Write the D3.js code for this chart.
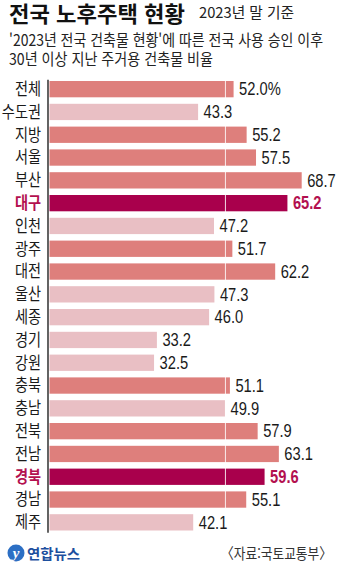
<!DOCTYPE html>
<html lang="ko">
<head>
<meta charset="utf-8">
<script src="https://cdn.jsdelivr.net/npm/d3@7/dist/d3.min.js"></script>
<style>
  html, body { margin: 0; padding: 0; background: #fff; }
  svg { display: block; }
  text { font-family: "Noto Sans CJK KR", "Noto Sans", sans-serif; }
  .num { font-family: "Liberation Sans", Arial, sans-serif; }
</style>
</head>
<body>
<svg id="chart" width="340" height="564"></svg>
<script>
// 지역별 30년 이상 노후 주거용 건축물 비율 (%)
const regions = ['전체','수도권','지방','서울','부산','대구','인천','광주','대전','울산',
                 '세종','경기','강원','충북','충남','전북','전남','경북','경남','제주'];
const ratios  = [52.0, 43.3, 55.2, 57.5, 68.7, 65.2, 47.2, 51.7, 62.2, 47.3,
                 46.0, 33.2, 32.5, 51.1, 49.9, 57.9, 63.1, 59.6, 55.1, 42.1];
const highlighted = ['대구', '경북'];
const guideValue = 50;

const colHigh = '#a9004c', colTextHigh = '#b3104f';
const colOver = '#de7f7c', colUnder = '#e9bfc4';

const svg = d3.select('#chart');

// condense a text horizontally to a ratio of its natural width (or to a fixed width)
function squeeze(sel, k, fixed) {
  sel.each(function () {
    const w = fixed != null ? fixed : this.getComputedTextLength() * k;
    d3.select(this).attr('textLength', w).attr('lengthAdjust', 'spacingAndGlyphs');
  });
}

// ---- headings ----
svg.append('text').attr('x', 9).attr('y', 22)
  .attr('font-size', 22).attr('font-weight', 700).attr('fill', '#111')
  .text('전국 노후주택 현황').call(squeeze, null, 176);
svg.append('text').attr('x', 199).attr('y', 17.5)
  .attr('font-size', 15).attr('fill', '#222')
  .text('2023년 말 기준').call(squeeze, null, 95);
svg.append('text').attr('x', 9).attr('y', 45.5)
  .attr('font-size', 15.5).attr('fill', '#222')
  .text("'2023년 전국 건축물 현황'에 따른 전국 사용 승인 이후").call(squeeze, null, 314);
svg.append('text').attr('x', 9).attr('y', 64.5)
  .attr('font-size', 15.5).attr('fill', '#222')
  .text('30년 이상 지난 주거용 건축물 비율').call(squeeze, null, 204);

// ---- scales ----
const step = 22.8;
const y = d3.scaleBand()
  .domain(regions)
  .range([77.75, 77.75 + step * regions.length])
  .paddingInner(0.285)
  .paddingOuter(0.1425);

const axisX = 48;
const x = d3.scaleLinear().domain([6.5, 70]).range([axisX, 307]);

const data = regions.map((r, i) => ({ region: r, value: ratios[i], hi: highlighted.includes(r) }));
const barColor = d => d.hi ? colHigh : (d.value >= guideValue ? colOver : colUnder);

// ---- bars ----
svg.append('g').selectAll('rect').data(data).join('rect')
  .attr('x', axisX + 1.5)
  .attr('y', d => y(d.region))
  .attr('width', d => x(d.value) - axisX - 1.5)
  .attr('height', y.bandwidth())
  .attr('fill', barColor);

// guide line at 50%
svg.append('line')
  .attr('x1', x(guideValue)).attr('x2', x(guideValue))
  .attr('y1', y.range()[0] + 2).attr('y2', y.range()[1] - 1)
  .attr('stroke', '#fff').attr('stroke-width', 1).attr('stroke-opacity', 0.85);

// vertical axis
svg.append('line')
  .attr('x1', axisX).attr('x2', axisX)
  .attr('y1', y.range()[0] + 2).attr('y2', y.range()[1] - 1)
  .attr('stroke', '#222').attr('stroke-width', 1.4);

// region labels
svg.append('g').selectAll('text').data(data).join('text')
  .attr('x', 41)
  .attr('y', d => y(d.region) + y.bandwidth() / 2)
  .attr('dy', '0.36em')
  .attr('text-anchor', 'end')
  .attr('font-size', 16.5)
  .attr('font-weight', d => d.hi ? 700 : 400)
  .attr('fill', d => d.hi ? colTextHigh : '#1a1a1a')
  .text(d => d.region)
  .call(squeeze, 0.86);

// value labels
svg.append('g').selectAll('text').data(data).join('text')
  .attr('class', 'num')
  .attr('x', d => x(d.value) + 5.5)
  .attr('y', d => y(d.region) + y.bandwidth() / 2)
  .attr('dy', '0.36em')
  .attr('font-size', 17.5)
  .attr('font-weight', d => d.hi ? 700 : 400)
  .attr('fill', d => d.hi ? colTextHigh : '#1a1a1a')
  .text((d, i) => d.value.toFixed(1) + (i === 0 ? '%' : ''))
  .call(squeeze, 0.84);

// ---- footer ----
const logo = svg.append('g').attr('transform', 'translate(16,553)');
logo.append('ellipse').attr('rx', 8.5).attr('ry', 8.5).attr('fill', '#2c6fc4');
logo.append('text').attr('x', 0).attr('y', 5).attr('text-anchor', 'middle')
  .attr('font-size', 15).attr('font-style', 'italic').attr('font-weight', 700)
  .attr('fill', '#fff').style('font-family', '"Liberation Serif", serif').text('y');
svg.append('text').attr('x', 27).attr('y', 559)
  .attr('font-size', 14).attr('font-weight', 700).attr('fill', '#1d4f9e')
  .text('연합뉴스').call(squeeze, null, 53);
svg.append('text').attr('x', 332).attr('y', 559).attr('text-anchor', 'end')
  .attr('font-size', 15).attr('fill', '#333')
  .text('〈자료:국토교통부〉').call(squeeze, null, 111);
</script>
</body>
</html>
